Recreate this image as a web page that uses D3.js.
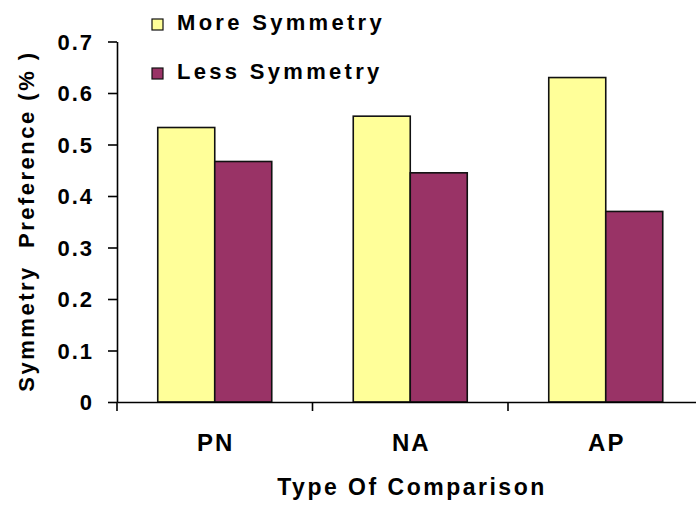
<!DOCTYPE html>
<html><head><meta charset="utf-8">
<script src="https://cdn.jsdelivr.net/npm/d3@7"></script>
<style>body{margin:0;background:#fff}svg{display:block}
text{font-family:"Liberation Sans",Arial,sans-serif;font-weight:bold;fill:#000}</style>
</head><body>
<svg id="c" width="696" height="512"></svg>
<script>
const categories = ["PN","NA","AP"];
const seriesNames = ["More Symmetry","Less Symmetry"];
const moreSymmetry = [0.533,0.555,0.63];
const lessSymmetry = [0.467,0.445,0.37];
const yTicks = [0,0.1,0.2,0.3,0.4,0.5,0.6,0.7];
const yTickLabels = ["0","0.1","0.2","0.3","0.4","0.5","0.6","0.7"];
const colors = ["#FFFF99","#993366"];

const svg = d3.select("#c");
const x0 = 117, x1 = 703.5, yBase = 402, yTop = 41.5;
const y = d3.scaleLinear().domain([0,0.7]).range([yBase,yTop]);
const x = d3.scaleBand().domain(categories).range([x0,x1]).padding(0);
const xs = d3.scaleBand().domain(seriesNames).range([0,x.bandwidth()]).paddingInner(0).paddingOuter(0.715);
const values = [moreSymmetry, lessSymmetry];

// bars
seriesNames.forEach((s,si)=>{
  svg.append("g").selectAll("rect").data(categories).join("rect")
    .attr("x",c=>x(c)+xs(s))
    .attr("y",(c,i)=>y(values[si][i]))
    .attr("width",xs.bandwidth())
    .attr("height",(c,i)=>yBase-y(values[si][i]))
    .attr("fill",colors[si])
    .attr("stroke","#111").attr("stroke-width",1.6);
});

// y axis
const ya = svg.append("g").attr("transform",`translate(${x0},0)`)
  .call(d3.axisLeft(y).tickValues(yTicks).tickFormat((d,i)=>yTickLabels[i]).tickSize(9).tickSizeOuter(0).tickPadding(14));
ya.select(".domain").attr("stroke","#000").attr("stroke-width",1.6);
ya.selectAll(".tick line").attr("stroke","#000").attr("stroke-width",1.6);
ya.selectAll("text").style("font-size","22px").attr("letter-spacing","2px").attr("dy","0.36em");

// x axis
const xa = svg.append("g").attr("transform",`translate(0,${yBase})`)
  .call(d3.axisBottom(x).tickSize(0).tickPadding(0));
xa.select(".domain").attr("stroke","#000").attr("stroke-width",1.6);
xa.selectAll("text").style("font-size","24px").attr("letter-spacing","2px").attr("y",49).attr("dy",0).attr("dx",1);
const bounds = categories.map(c=>x(c)).concat([x1]);
svg.append("g").selectAll("line").data(bounds).join("line")
  .attr("x1",d=>d).attr("x2",d=>d).attr("y1",yBase).attr("y2",yBase+9)
  .attr("stroke","#000").attr("stroke-width",1.6);

// axis titles
svg.append("text").attr("x",412).attr("y",495).attr("text-anchor","middle")
  .style("font-size","23px").attr("letter-spacing","2.5px").text("Type Of Comparison");
svg.append("text").attr("transform","translate(34,221) rotate(-90)").attr("text-anchor","middle")
  .style("font-size","22px").attr("letter-spacing","2.5px").style("white-space","pre").text("Symmetry  Preference (% )");

// legend
const lg = svg.append("g");
seriesNames.forEach((s,i)=>{
  const by = 30 + i*49;
  lg.append("rect").attr("x",152).attr("y",by-11).attr("width",11).attr("height",11)
    .attr("fill",colors[i]).attr("stroke","#111").attr("stroke-width",1.2);
  lg.append("text").attr("x",177).attr("y",by).style("font-size","22px").attr("letter-spacing","3.3px").text(s);
});
</script>
</body></html>
